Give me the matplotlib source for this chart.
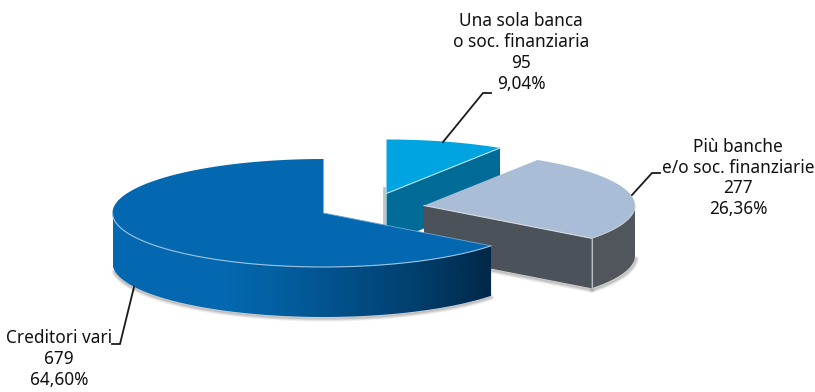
"""Exploded 3D-style pie of creditor types, drawn as polygons in pixel space."""
import matplotlib

matplotlib.use("Agg")
import matplotlib.pyplot as plt
import numpy as np
from matplotlib.colors import LinearSegmentedColormap
from matplotlib.patches import Polygon

counts = [95, 277, 679]
percent_labels = ["9,04%", "26,36%", "64,60%"]
names = ["Una sola banca\no soc. finanziaria", "Più banche\ne/o soc. finanziarie", "Creditori vari"]

# Apex of each exploded slice and the shared ellipse shape
centers = [(386.5, 193.5), (424, 205.5), (323.5, 213)]
RX, RY, DEPTH = 211, 54, 50

fig = plt.figure(figsize=(8.15, 3.92), dpi=100)
ax = fig.add_axes([0, 0, 1, 1])
ax.set_xlim(0, 815)
ax.set_ylim(392, 0)
ax.axis("off")


def arc(center, start, end, dy=0.0):
    """Points on the slice rim, angles clockwise from the top."""
    t = np.radians(np.linspace(start, end, 160))
    return np.column_stack([center[0] + RX * np.sin(t), center[1] - RY * np.cos(t) + dy])


def side_wall(center, start, end):
    """Outer wall of the slice between two angles."""
    return np.vstack([arc(center, start, end), arc(center, start, end, DEPTH)[::-1]])


def cut_wall(center, angle):
    """Flat radial face from the apex to the rim at the given angle."""
    rim = arc(center, angle, angle)[0]
    cx, cy = center
    return np.array([[cx, cy], rim, rim + [0, DEPTH], [cx, cy + DEPTH]])


def shadow(points, z):
    """Soft grey halo along a lower edge."""
    for lw, alpha in [(4.5, 0.08), (3, 0.12), (1.5, 0.2)]:
        ax.plot(points[:, 0], points[:, 1], color="#555555", lw=lw, alpha=alpha, zorder=z, solid_capstyle="round")


bounds = np.cumsum([0] + counts) / sum(counts) * 360
a0, a1, a2, a3 = bounds

# First slice, at the back
c = centers[0]
ax.plot([c[0] - 2.5, c[0] - 2.5], [c[1] - 6, c[1] + 32], color="#999999", lw=2, alpha=0.6, zorder=1)
ax.add_patch(Polygon(cut_wall(c, a1), closed=True, fc="#006b97", ec="none", zorder=2))
top = np.vstack([[c], arc(c, a0, a1)])
ax.add_patch(Polygon(top, closed=True, fc="#00a4e1", ec="none", zorder=3))
ax.plot(*np.array([c, arc(c, a1, a1)[0]]).T, color="#b8e2f2", lw=0.8, zorder=3.1)

# Second slice
c = centers[1]
shadow(arc(c, 92, a2, DEPTH + 1.5) + [1, 0], 3.5)
shadow(cut_wall(c, a2)[[2, 3]] + [0, 1.5], 3.5)
ax.add_patch(Polygon(side_wall(c, 90, a2), closed=True, fc="#50565c", ec="none", zorder=4))
ax.add_patch(Polygon(cut_wall(c, a2), closed=True, fc="#4c5259", ec="none", zorder=4))
top = np.vstack([[c], arc(c, a1, a2)])
ax.add_patch(Polygon(top, closed=True, fc="#aabdd6", ec="none", zorder=5))
rim_pt = arc(c, a2, a2)[0]
ax.plot(*np.array([c, rim_pt]).T, color="#d5d9de", lw=0.8, zorder=5.1)
ax.plot(*arc(c, 90, a2).T, color="#c4ccd6", lw=0.8, zorder=5.1)
ax.plot([rim_pt[0], rim_pt[0]], [rim_pt[1], rim_pt[1] + DEPTH], color="#b9bdc1", lw=0.8, zorder=5.1)

# Third slice, in front; its wall darkens towards the right end
c = centers[2]
shadow(arc(c, 262, a2, DEPTH + 1.5)[::-1], 5.5)
wall = Polygon(side_wall(c, a2, 270), closed=True, fc="none", ec="none", zorder=6)
ax.add_patch(wall)
wall_cmap = LinearSegmentedColormap.from_list(
    "wall", [(0, "#0468b1"), (0.3, "#0468b1"), (0.45, "#035e9f"), (0.6, "#02508a"), (0.8, "#013f6e"), (1, "#002848")]
)
img = ax.imshow(
    np.linspace(0, 1, 400).reshape(1, -1),
    extent=(c[0] - RX, arc(c, a2, a2)[0][0], 392, 0),
    cmap=wall_cmap,
    aspect="auto",
    zorder=6,
)
img.set_clip_path(wall)
ax.set_xlim(0, 815)
ax.set_ylim(392, 0)
top = np.vstack([[c], arc(c, a2, a3)])
ax.add_patch(Polygon(top, closed=True, fc="#0468b1", ec="none", zorder=7))
ax.plot(*arc(c, a2, 270).T, color="#9cc3e0", lw=0.8, zorder=7.1)
ax.plot(*np.array([c, arc(c, a2, a2)[0]]).T, color="#6ea6d2", lw=0.6, zorder=7.1)

# Leader lines
leaders = [
    [(443, 142), (483, 93), (491, 93)],
    [(632, 195), (652, 173), (660, 173)],
    [(134, 287), (120, 344), (112, 344)],
]
for line in leaders:
    ax.plot(*np.array(line).T, color="#1a1a1a", lw=1.3, zorder=8, solid_joinstyle="miter")

# Labels
label_pos = [(521, 52.5), (738, 178), (59, 359)]
for name, count, pct, (x, y) in zip(names, counts, percent_labels, label_pos):
    ax.text(
        x, y, f"{name}\n{count}\n{pct}",
        ha="center", va="center", fontsize=12.4, color="#111111",
        family="Noto Sans", linespacing=1.2, zorder=9,
    )

fig.savefig("out.png", dpi=100)
